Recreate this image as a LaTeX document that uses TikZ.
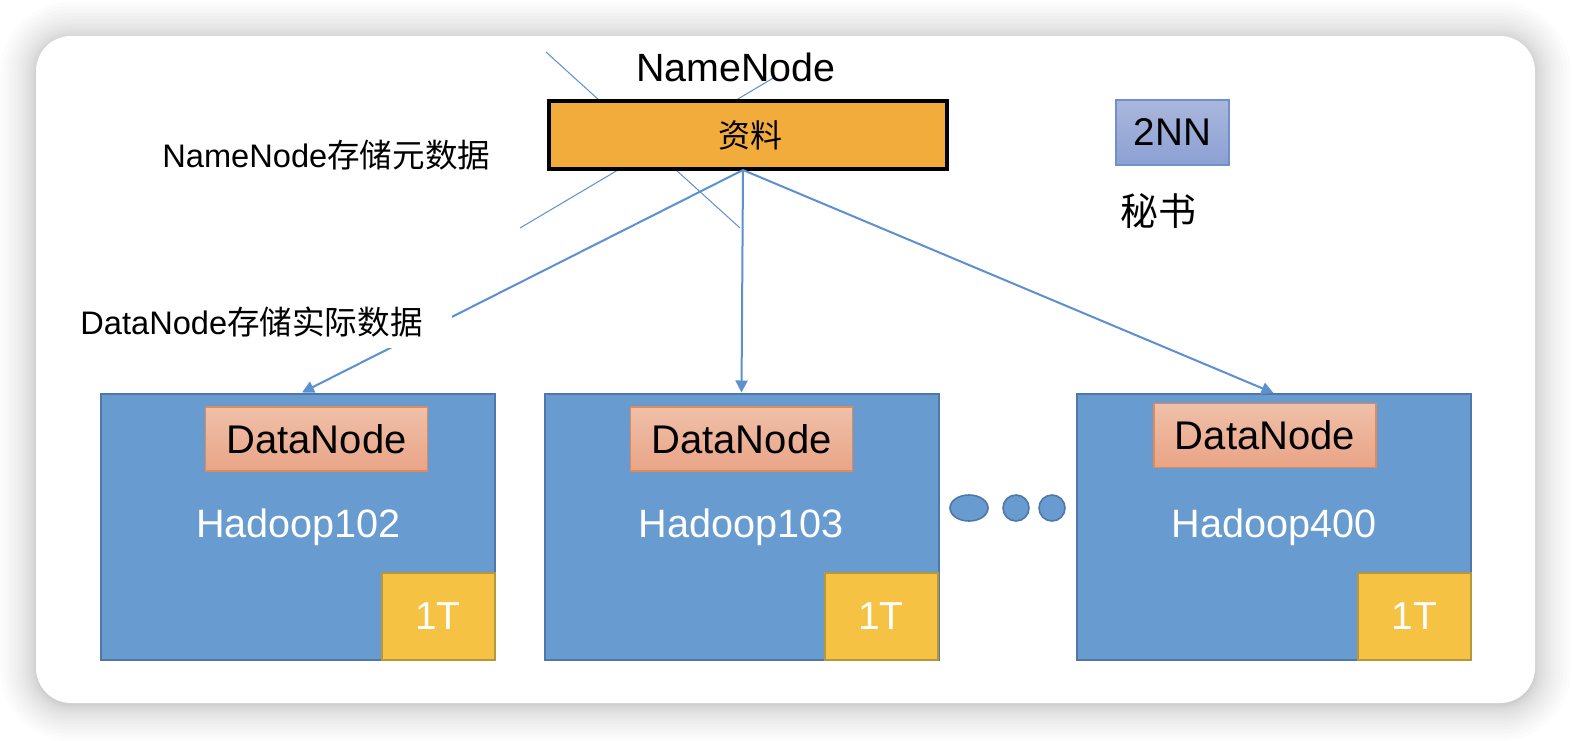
\documentclass[tikz,border=0pt]{standalone}
\usepackage{fontspec}
\setmainfont{Liberation Sans}
\newfontfamily\cjk{Noto Sans CJK SC}
\usetikzlibrary{arrows.meta,calc,shapes.geometric}
\definecolor{hblue}{HTML}{689BD0}
\definecolor{hblueb}{HTML}{4F78A8}
\definecolor{lnblue}{HTML}{5C90CF}
\definecolor{nnorange}{HTML}{F2AC3C}
\definecolor{dntop}{HTML}{EFC0A8}
\definecolor{dnbot}{HTML}{E9A487}
\definecolor{dnb}{HTML}{E0895A}
\definecolor{tyel}{HTML}{F5C244}
\definecolor{tyelb}{HTML}{B8963A}
\definecolor{sntop}{HTML}{AAB7DC}
\definecolor{snbot}{HTML}{8CA0D3}
\definecolor{snb}{HTML}{7090CC}
\newcommand\myfs[1]{\fontsize{#1}{#1}\selectfont}
\tikzset{
  hostbox/.style={draw=hblueb, line width=1pt, fill=hblue, minimum width=197pt, minimum height=133pt, inner sep=0pt},
  dnbox/.style={draw=dnb, line width=0.6pt, top color=dntop, bottom color=dnbot, minimum width=111pt, minimum height=32pt, inner sep=0pt, font=\myfs{20}},
  tbbox/.style={draw=tyelb, line width=1pt, fill=tyel, minimum width=56.5pt, minimum height=43.5pt, inner sep=0pt, text=white, font=\myfs{19.5}},
  hostlabel/.style={text=white, font=\myfs{19.8}, inner sep=0pt},
  feed/.style={draw=lnblue, line width=1pt, -{Triangle[length=6pt,width=6pt]}},
  thinline/.style={draw=lnblue, line width=0.5pt},
  dot/.style={draw=hblueb, line width=0.8pt, fill=hblue, inner sep=0pt},
  plain/.style={inner sep=0pt, text=black}
}
\begin{document}
\begin{tikzpicture}[x=0.5pt,y=-0.5pt]
\useasboundingbox (0,0) rectangle (1572,740);
% background and shadow
\fill[white] (0,0) rectangle (1572,740);
\foreach \i in {1,...,16}{
  \pgfmathsetmacro\o{36*(\i/16)^1.7}
  \pgfmathsetmacro\r{(35+\o)*0.5}
  \fill[black, opacity=0.011, rounded corners=\r pt] (36-\o,38-\o) rectangle (1535+\o,705+\o);
}
\fill[white, rounded corners=17.5pt] (36,36) rectangle (1535,703);

% thin crossing lines (behind the NameNode box)
\coordinate (xa1) at (546,52);
\coordinate (xa2) at (740,228);
\coordinate (xb1) at (520,228);
\coordinate (xb2) at (775,77);
\draw[thinline] (xa1) -- (xa2);
\draw[thinline] (xb1) -- (xb2);

% NameNode
\node[plain, font=\myfs{19.7}] (nnlabel) at (736,67) {NameNode};
\node[draw=black, line width=2pt, fill=nnorange, minimum width=199pt, minimum height=34pt, inner sep=0pt] (nn) at (748,135) {};
\node[plain, font=\cjk\myfs{16}] (nntext) at (750,135) {资料};

% 2NN
\node[draw=snb, line width=0.6pt, top color=sntop, bottom color=snbot, minimum width=56.5pt, minimum height=32.5pt, inner sep=0pt, font=\myfs{19.3}] (snn) at (1172.5,132.5) {2NN};
\node[plain, font=\cjk\myfs{19}] (secr) at (1158,211) {秘书};

% host boxes
\node[hostbox] (h1) at (298,526.5) {};
\node[hostbox] (h2) at (741.5,526.5) {};
\node[hostbox] (h3) at (1273.5,527) {};
\node[dnbox] (d1) at (316.5,439) {DataNode};
\node[dnbox] (d2) at (741.5,439) {DataNode};
\node[dnbox] (d3) at (1265,435.5) {DataNode};
\node[hostlabel] (l1) at (298.5,527) {Hadoop102};
\node[hostlabel] (l2) at (741,527) {Hadoop103};
\node[hostlabel] (l3) at (1274,527) {Hadoop400};
\node[tbbox] (t1) at (438,616) {1T};
\node[tbbox] (t2) at (881,616) {1T};
\node[tbbox] (t3) at (1414.5,616) {1T};

% dots
\node[dot, ellipse, minimum width=19pt, minimum height=13pt] (e1) at (969,508) {};
\node[dot, circle, minimum size=13pt] (e2) at (1016,508) {};
\node[dot, circle, minimum size=13pt] (e3) at (1052,508) {};

% connectors
\coordinate (src) at (743,170);
\draw[feed] (src) -- ($(h1.north)+(4,0)$);
\draw[feed] (src) -- (h2.north);
\draw[feed] (src) -- (h3.north);

% annotations
\node[plain, font=\myfs{16.3}, anchor=west] (meta) at (162,155) {NameNode{\cjk 存储元数据}};
\node[plain, fill=white, font=\myfs{16.3}, anchor=west, text width=186pt, align=left, minimum height=26pt] (data) at (80,322) {DataNode{\cjk 存储实际数据}};
\end{tikzpicture}
\end{document}
